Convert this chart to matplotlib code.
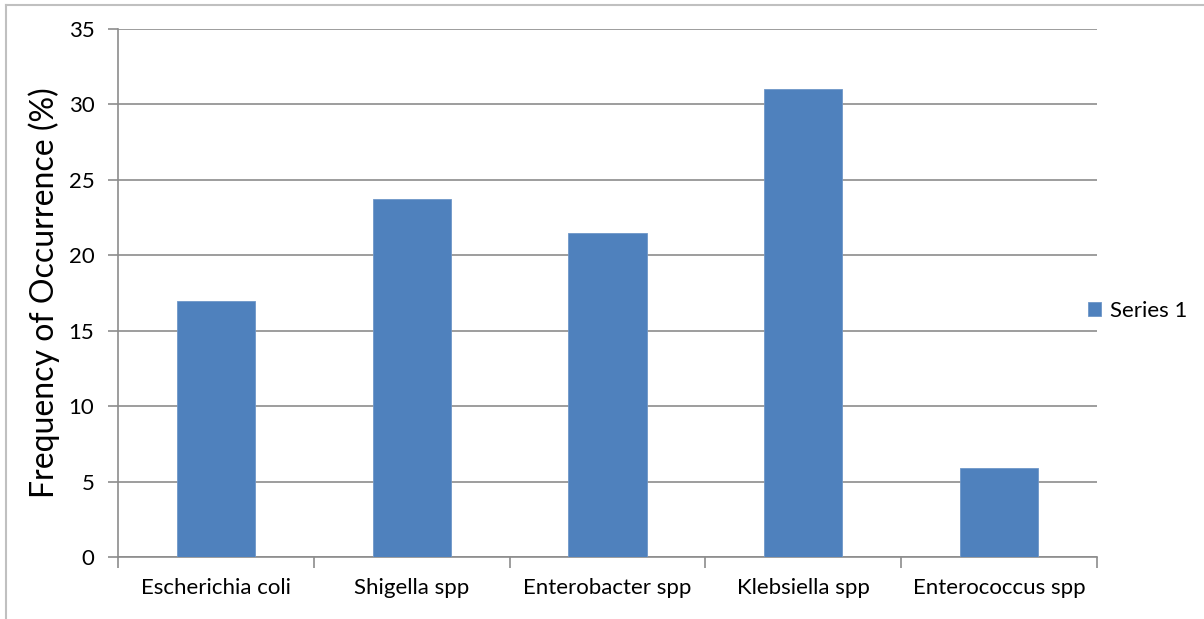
import matplotlib.pyplot as plt
from matplotlib.lines import Line2D

organisms = ['Escherichia coli', 'Shigella spp', 'Enterobacter spp',
             'Klebsiella spp', 'Enterococcus spp']
frequency = [17.0, 23.7, 21.5, 31.0, 5.9]
y_ticks = [0, 5, 10, 15, 20, 25, 30, 35]

plt.rcParams['font.family'] = ['Lato', 'DejaVu Sans']

fig = plt.figure(figsize=(12.04, 6.19), dpi=100)
ax = fig.add_axes([118 / 1204, 1 - 557 / 619, 979 / 1204, 528 / 619])

grid_col = '#8c8c8c'
ax.bar(range(len(organisms)), frequency, width=0.4, color='#4F81BD',
       edgecolor='#6f97c8', linewidth=0.6, zorder=3, label='Series 1')

ax.set_xlim(-0.5, len(organisms) - 0.5)
ax.set_ylim(0, 35)
ax.set_yticks(y_ticks)
ax.yaxis.grid(True, color=grid_col, linewidth=1.2, zorder=0)
ax.set_xticks(range(len(organisms)))
ax.set_xticklabels(organisms, fontsize=16)
ax.tick_params(axis='x', length=0, pad=15)
ax.set_xticks([i - 0.5 for i in range(len(organisms) + 1)], minor=True)
ax.tick_params(axis='x', which='minor', length=8, width=1.2, color=grid_col)
ax.tick_params(axis='y', length=7, width=1.2, color=grid_col, labelsize=16, pad=10)

for side in ['top', 'right']:
    ax.spines[side].set_visible(False)
for side in ['left', 'bottom']:
    ax.spines[side].set_color(grid_col)
    ax.spines[side].set_linewidth(1.2)

ax.set_ylabel('Frequency of Occurrence (%)', fontsize=23, labelpad=6)

handles, labels = ax.get_legend_handles_labels()
fig.legend(handles, labels, loc='center left', bbox_to_anchor=(1068 / 1204, 1 - 311 / 619),
           frameon=False, fontsize=16, handlelength=0.6, handleheight=0.6,
           handletextpad=0.4)

# outer chart frame
fig.add_artist(Line2D([6 / 1204, 6 / 1204], [0, 1 - 5 / 619], color='#c0c0c0', lw=1.5))
fig.add_artist(Line2D([6 / 1204, 1], [1 - 5 / 619, 1 - 5 / 619], color='#c0c0c0', lw=1.5))

fig.savefig('out.png', dpi=100)
